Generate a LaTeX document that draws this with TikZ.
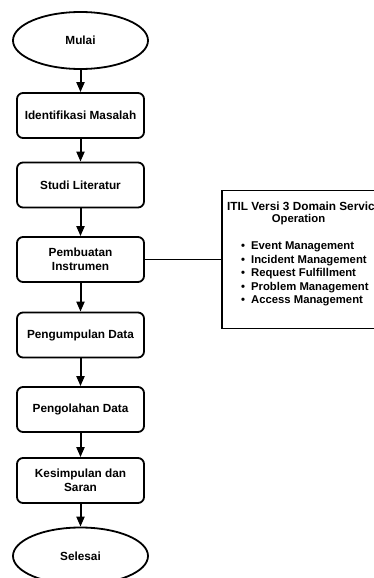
\documentclass[tikz,border=0pt]{standalone}
\usepackage{fontspec}
\setmainfont{Liberation Sans}
\usetikzlibrary{shapes.geometric,arrows.meta}

\begin{document}
\begin{tikzpicture}[x=1pt,y=-1pt,
    every node/.style={font=\bfseries\fontsize{11.8}{14.5}\selectfont},
    proses/.style={draw,rounded corners=6pt,line width=1.8pt,minimum width=127pt,minimum height=45pt,align=center},
    terminal/.style={draw,ellipse,line width=1.8pt,minimum width=135pt,minimum height=57pt},
    panah/.style={line width=2pt,-{Triangle[length=10pt,width=8pt]}},
    daftar/.style={font=\bfseries\fontsize{11.3}{13}\selectfont,anchor=west,inner sep=0pt}]
    \useasboundingbox (0,0) rectangle (374,578);

    \node[terminal] (1) at (80.5,40.5) {Mulai};
    \node[proses] (2) at (80.5,115.5) {Identifikasi Masalah};
    \node[proses] (3) at (80.5,185) {Studi Literatur};
    \node[proses] (4) at (80.5,259.5) {Pembuatan\\Instrumen};
    \node[proses] (5) at (80.5,335) {Pengumpulan Data};
    \node[proses] (6) at (80.5,409.5) {Pengolahan Data};
    \node[proses] (7) at (80.5,480.5) {Kesimpulan dan\\Saran};
    \node[terminal] (8) at (80.5,556) {Selesai};

    \node[draw,line width=1.8pt,minimum width=180pt,minimum height=138pt] (9) at (312,259.5) {};
    \node[daftar,font=\bfseries\fontsize{11.8}{13}\selectfont] (t1) at (227,206) {ITIL Versi 3 Domain Service};
    \node[daftar,anchor=center] (t2) at (298.5,220) {Operation};
    \foreach \isi/\y [count=\n] in {Event Management/247,Incident Management/260.5,
        Request Fulfillment/274,Problem Management/287.5,Access Management/301}
        \node[daftar] (i\n) at (241,\y) {\textbullet\hspace{6pt}\isi};

    \path[panah] (1) edge (2);
    \path[panah] (2) edge (3);
    \path[panah] (3) edge (4);
    \path[panah] (4) edge (5);
    \path[panah] (5) edge (6);
    \path[panah] (6) edge (7);
    \path[panah] (7) edge (8);
    \path[draw,line width=1.3pt] (4) edge (9);
\end{tikzpicture}
\end{document}
